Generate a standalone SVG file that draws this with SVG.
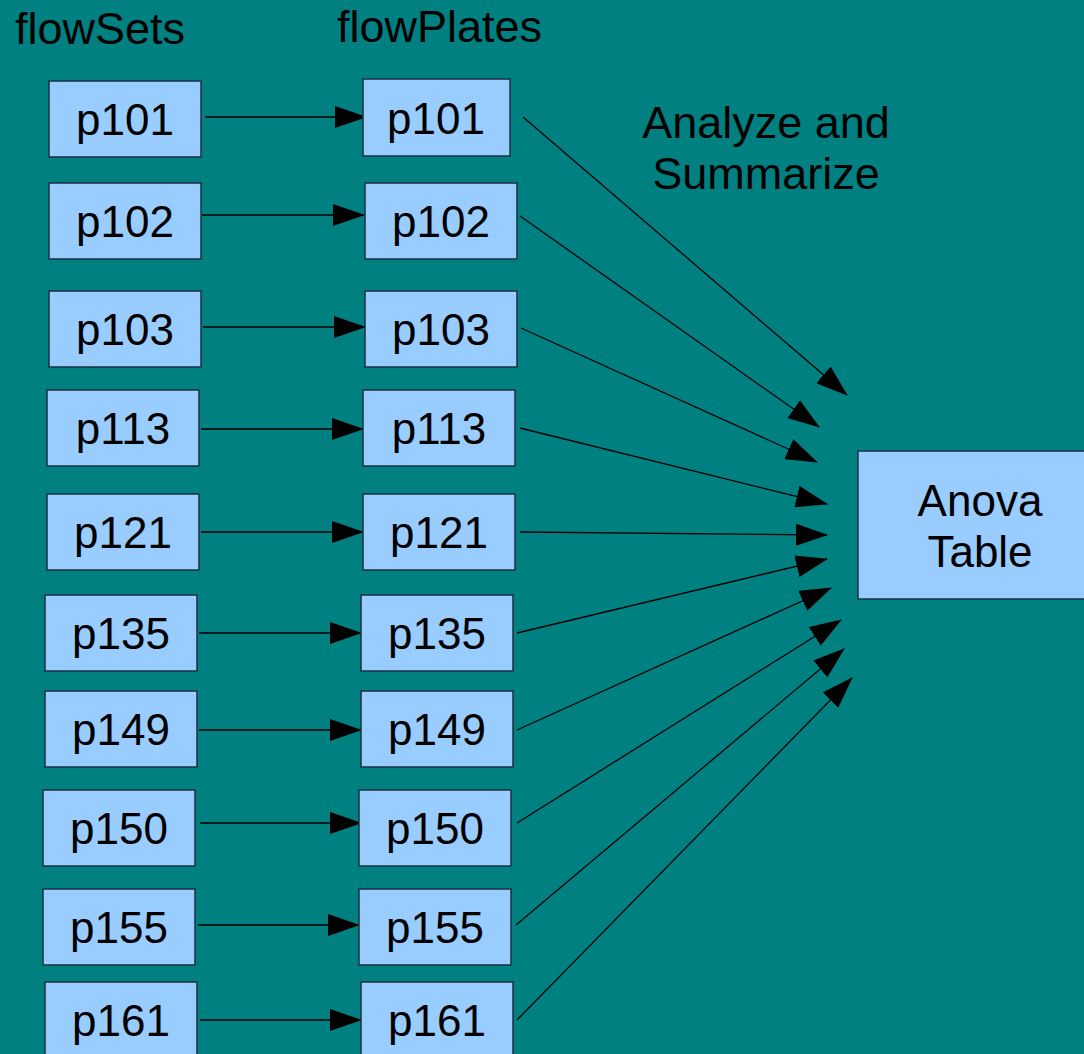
<svg xmlns="http://www.w3.org/2000/svg" width="1084" height="1054" viewBox="0 0 1084 1054">
<style>
.bx{fill:#99ccff;stroke:#1c3040;stroke-width:1.5}
.t{font-family:"Liberation Sans",Arial,sans-serif;font-size:44px;fill:#000;text-anchor:middle}
.h{font-family:"Liberation Sans",Arial,sans-serif;font-size:45px;fill:#000}
.hc{font-family:"Liberation Sans",Arial,sans-serif;font-size:45px;fill:#000;text-anchor:middle}
.c{stroke:#000;stroke-width:1.3;fill:none;marker-end:url(#ah)}
</style>
<defs>
<marker id="ah" markerUnits="userSpaceOnUse" markerWidth="32" markerHeight="22" refX="31" refY="11" orient="auto" viewBox="0 0 32 22">
<path d="M0,0 L32,11 L0,22 z" fill="#000"/>
</marker>
</defs>
<rect width="1084" height="1054" fill="#008080"/>
<g id="labels">
<text class="h" x="15" y="44">flowSets</text>
<text class="h" x="337" y="42">flowPlates</text>
<text class="hc" x="766" y="138">Analyze and</text>
<text class="hc" x="766" y="189">Summarize</text>
</g>
<g id="connectors">
<line class="c" x1="205" y1="117" x2="366" y2="117"/>
<line class="c" x1="202" y1="215" x2="364" y2="215"/>
<line class="c" x1="203" y1="327" x2="365" y2="327"/>
<line class="c" x1="201" y1="429" x2="363" y2="429"/>
<line class="c" x1="201" y1="532" x2="363" y2="532"/>
<line class="c" x1="199" y1="633" x2="361" y2="633"/>
<line class="c" x1="199" y1="730" x2="361" y2="730"/>
<line class="c" x1="200" y1="823" x2="361" y2="823"/>
<line class="c" x1="198" y1="925" x2="359" y2="925"/>
<line class="c" x1="200" y1="1020" x2="361" y2="1020"/>
<line class="c" x1="523" y1="117" x2="847" y2="395"/>
<line class="c" x1="520" y1="216" x2="819" y2="427"/>
<line class="c" x1="521" y1="328" x2="817" y2="462"/>
<line class="c" x1="520" y1="428" x2="827" y2="504"/>
<line class="c" x1="520" y1="532" x2="827" y2="535"/>
<line class="c" x1="517" y1="633" x2="827" y2="559"/>
<line class="c" x1="517" y1="730" x2="831" y2="588"/>
<line class="c" x1="517" y1="823" x2="841" y2="620"/>
<line class="c" x1="516" y1="925" x2="844" y2="649"/>
<line class="c" x1="517" y1="1020" x2="852" y2="678"/>
</g>
<g id="s101"><rect class="bx" x="49" y="81" width="152" height="76"/><text class="t" x="125" y="135">p101</text></g>
<g id="s102"><rect class="bx" x="49" y="183" width="152" height="76"/><text class="t" x="125" y="237">p102</text></g>
<g id="s103"><rect class="bx" x="49" y="291" width="152" height="76"/><text class="t" x="125" y="345">p103</text></g>
<g id="s113"><rect class="bx" x="47" y="390" width="152" height="76"/><text class="t" x="123" y="444">p113</text></g>
<g id="s121"><rect class="bx" x="47" y="494" width="152" height="76"/><text class="t" x="123" y="548">p121</text></g>
<g id="s135"><rect class="bx" x="45" y="595" width="152" height="76"/><text class="t" x="121" y="649">p135</text></g>
<g id="s149"><rect class="bx" x="45" y="691" width="152" height="76"/><text class="t" x="121" y="745">p149</text></g>
<g id="s150"><rect class="bx" x="43" y="790" width="152" height="76"/><text class="t" x="119" y="844">p150</text></g>
<g id="s155"><rect class="bx" x="43" y="889" width="152" height="76"/><text class="t" x="119" y="943">p155</text></g>
<g id="s161"><rect class="bx" x="45" y="982" width="152" height="76"/><text class="t" x="121" y="1036">p161</text></g>
<g id="f101"><rect class="bx" x="363" y="79" width="147" height="77"/><text class="t" x="436" y="134">p101</text></g>
<g id="f102"><rect class="bx" x="365" y="183" width="152" height="76"/><text class="t" x="441" y="237">p102</text></g>
<g id="f103"><rect class="bx" x="365" y="291" width="152" height="76"/><text class="t" x="441" y="345">p103</text></g>
<g id="f113"><rect class="bx" x="363" y="390" width="152" height="76"/><text class="t" x="439" y="444">p113</text></g>
<g id="f121"><rect class="bx" x="363" y="494" width="152" height="76"/><text class="t" x="439" y="548">p121</text></g>
<g id="f135"><rect class="bx" x="361" y="595" width="152" height="76"/><text class="t" x="437" y="649">p135</text></g>
<g id="f149"><rect class="bx" x="361" y="691" width="152" height="76"/><text class="t" x="437" y="745">p149</text></g>
<g id="f150"><rect class="bx" x="359" y="790" width="152" height="76"/><text class="t" x="435" y="844">p150</text></g>
<g id="f155"><rect class="bx" x="359" y="889" width="152" height="76"/><text class="t" x="435" y="943">p155</text></g>
<g id="f161"><rect class="bx" x="361" y="982" width="152" height="76"/><text class="t" x="437" y="1036">p161</text></g>
<g id="anova"><rect class="bx" x="858" y="451" width="240" height="148"/><text class="t" x="980" y="516">Anova</text><text class="t" x="980" y="567">Table</text></g>
</svg>
